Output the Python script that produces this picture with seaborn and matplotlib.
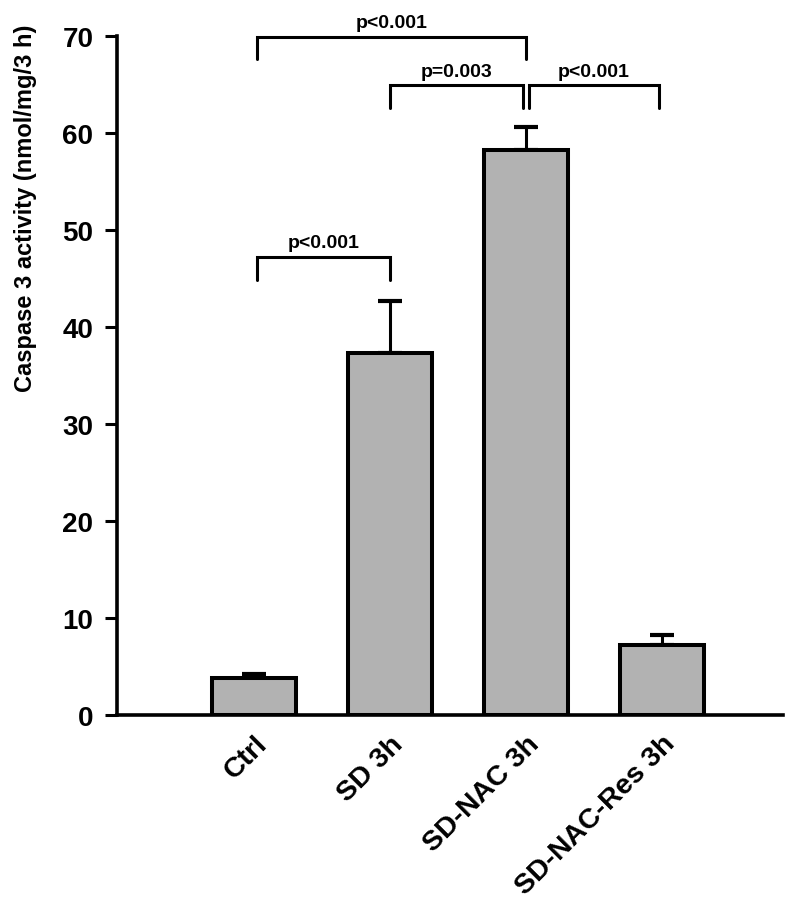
import numpy as np
import matplotlib
matplotlib.use("Agg")
import matplotlib.pyplot as plt
import seaborn as sns

# --- Data ---
groups = ["Ctrl", "SD 3h", "SD-NAC 3h", "SD-NAC-Res 3h"]
means = [3.8, 37.3, 58.2, 7.2]
errors = [0.4, 5.4, 2.4, 1.1]

# pairwise comparisons: (left x, right x, bracket top, label)
comparisons = [
    (0.02, 2.0, 69.9, "p<0.001"),
    (1.0, 1.98, 64.9, "p=0.003"),
    (2.02, 2.98, 64.9, "p<0.001"),
    (0.02, 1.0, 47.2, "p<0.001"),
]
leg = 2.3

sns.set_style("ticks")
plt.rcParams['font.family'] = ['Liberation Sans', 'DejaVu Sans']
plt.rcParams['text.color'] = 'black'
plt.rcParams['axes.labelcolor'] = 'black'
plt.rcParams['xtick.color'] = 'black'
plt.rcParams['ytick.color'] = 'black'

fig = plt.figure(figsize=(7.93, 9.03), dpi=100)
ax = fig.add_axes([0.1475, 0.207, 0.8395, 0.752])

sns.barplot(x=groups, y=means, color="#b2b2b2", saturation=1, width=0.62,
            edgecolor="black", linewidth=2.9, errorbar=None, ax=ax, zorder=2)
ax.errorbar(np.arange(len(groups)), means, yerr=[np.zeros(len(errors)), errors],
            fmt="none", ecolor="black", elinewidth=2.2, capsize=8.6, capthick=3,
            zorder=1)

for x1, x2, y, label in comparisons:
    ax.plot([x1, x1, x2, x2], [y - leg, y, y, y - leg], color="black",
            lw=2.2, clip_on=False, solid_joinstyle="miter")
    ax.text((x1 + x2) / 2, y + 0.6, label, ha="center", va="bottom",
            fontsize=14, fontweight="bold")

ax.set_ylim(0, 70)
ax.set_xlim(-1.01, 3.89)
ax.set_yticks(range(0, 71, 10))
ax.tick_params(axis="y", direction="out", length=9, width=2.2, labelsize=20, pad=8)
ax.tick_params(axis="x", length=0, labelsize=20.5, pad=11)
for lbl in ax.get_yticklabels():
    lbl.set_fontweight("bold")
ax.set_xticks(range(len(groups)))
ax.set_xticklabels(groups, rotation=45, ha="right", va="top",
                   rotation_mode="anchor", fontweight="bold")

ax.set_ylabel("Caspase 3 activity (nmol/mg/3 h)", fontsize=17, fontweight="bold")
ax.yaxis.set_label_coords(-0.12, 0.748)
ax.set_xlabel("")

sns.despine(ax=ax)
for side in ["left", "bottom"]:
    ax.spines[side].set_linewidth(2.6)
    ax.spines[side].set_color("black")

fig.savefig("out.png", dpi=100)
